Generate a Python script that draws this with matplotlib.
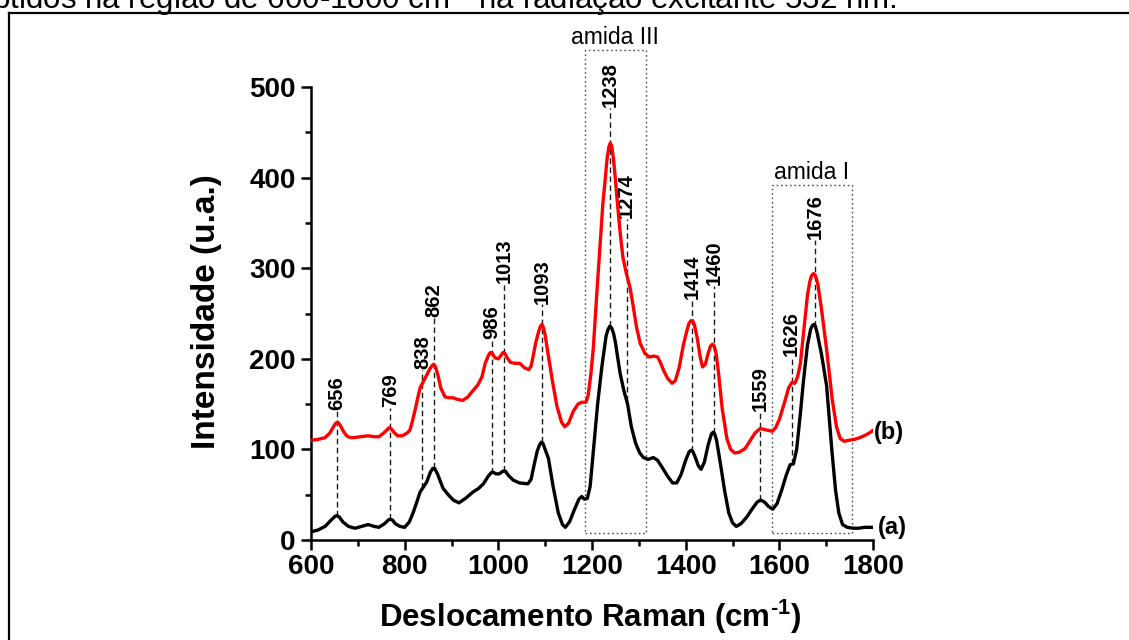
import matplotlib
matplotlib.use("Agg")
import matplotlib.pyplot as plt
from matplotlib.patches import Rectangle
from matplotlib.lines import Line2D
import numpy as np

plt.rcParams['font.family'] = ['Liberation Sans', 'DejaVu Sans']
plt.rcParams['mathtext.fontset'] = 'custom'
plt.rcParams['mathtext.rm'] = 'Liberation Sans:bold'
plt.rcParams['mathtext.bf'] = 'Liberation Sans:bold'

# Spectrum (a)
wn_a = [600, 615, 630, 643, 651, 656, 661, 668, 680, 694, 708, 722, 735, 745, 757, 765,
        769, 774, 780, 790, 800, 810, 818, 826, 833, 847, 855, 860, 864, 870, 882, 893,
        904, 916, 930, 946, 958, 968, 978, 984, 988, 995, 1002, 1010, 1015, 1022, 1032,
        1045, 1063, 1070, 1076, 1083, 1088, 1092, 1095, 1100, 1107, 1117, 1128, 1137,
        1143, 1152, 1162, 1172, 1178, 1184, 1190, 1196, 1203, 1212, 1221, 1230, 1234,
        1238, 1242, 1246, 1250, 1260, 1268, 1276, 1284, 1293, 1302, 1310, 1320, 1331,
        1340, 1350, 1362, 1372, 1381, 1390, 1400, 1407, 1411, 1415, 1420, 1427, 1433,
        1440, 1448, 1455, 1459, 1462, 1466, 1474, 1483, 1492, 1500, 1508, 1518, 1530,
        1543, 1553, 1560, 1568, 1577, 1586, 1595, 1605, 1615, 1623, 1630, 1637, 1645,
        1651, 1660, 1667, 1671, 1674, 1677, 1681, 1690, 1701, 1712, 1720, 1727, 1735,
        1745, 1758, 1770, 1782, 1795, 1800]
int_a = [9, 11, 15, 22, 26, 27, 25, 20, 15, 13, 15, 17, 15, 14, 18, 22,
         23, 22, 18, 15, 14, 20, 30, 42, 53, 64, 75, 79, 79, 73, 57, 50,
         44, 41, 46, 53, 57, 62, 70, 74, 75, 73, 73, 76, 76, 71, 66,
         63, 62, 67, 82, 98, 105, 108, 107, 100, 90, 59, 30, 17,
         14, 20, 33, 45, 48, 45, 46, 59, 99, 150, 191, 225, 232,
         236, 234, 228, 218, 184, 165, 150, 125, 107, 96, 91, 89, 91,
         88, 80, 70, 63, 63, 72, 88, 97, 99, 98, 92, 82, 78,
         86, 105, 117, 119, 117, 110, 85, 55, 30, 19, 15, 18, 25,
         35, 42, 44, 42, 37, 34, 40, 55, 72, 83, 84, 100, 140,
         173, 215, 233, 237, 238, 236, 228, 205, 170, 100, 55, 30, 17,
         14, 13, 13, 14, 14, 14]

# Spectrum (b)
wn_b = [600, 615, 630, 640, 648, 653, 657, 662, 668, 676, 684, 692, 705, 722, 735, 745,
        755, 763, 767, 771, 777, 785, 795, 805, 811, 816, 822, 828, 833, 840, 847, 854,
        858, 862, 866, 871, 877, 886, 895, 903, 914, 924, 935, 946, 956, 965, 972, 979,
        983, 987, 993, 1000, 1006, 1010, 1014, 1019, 1026, 1035, 1046, 1056, 1065, 1070,
        1074, 1080, 1086, 1090, 1093, 1096, 1100, 1106, 1115, 1125, 1135, 1142, 1150,
        1160, 1170, 1178, 1187, 1192, 1198, 1203, 1210, 1217, 1223, 1228, 1232, 1236,
        1239, 1242, 1246, 1250, 1253, 1260, 1266, 1273, 1281, 1288, 1295, 1303, 1313,
        1322, 1332, 1340, 1346, 1353, 1362, 1371, 1378, 1386, 1395, 1403, 1407, 1411,
        1415, 1419, 1425, 1431, 1436, 1442, 1448, 1453, 1457, 1461, 1465, 1470, 1478,
        1488, 1496, 1505, 1515, 1527, 1538, 1548, 1559, 1568, 1577, 1585, 1592, 1600,
        1610, 1620, 1627, 1633, 1639, 1645, 1653, 1660, 1665, 1669, 1673, 1677, 1682,
        1690, 1701, 1713, 1722, 1730, 1738, 1748, 1760, 1772, 1785, 1795, 1800]
int_b = [110, 111, 113, 118, 125, 129, 130, 127, 121, 115, 113, 113, 114, 115, 114, 114,
         118, 122, 124, 123, 119, 115, 115, 118, 121, 130, 143, 157, 168, 175, 182, 189,
         192, 194, 191, 182, 168, 158, 157, 157, 155, 154, 158, 165, 171, 180, 195, 204,
         207, 206, 201, 200, 204, 207, 206, 201, 196, 195, 195, 190, 188, 192,
         202, 218, 230, 236, 238, 235, 226, 206, 177, 148, 130, 125, 129,
         142, 150, 152, 152, 160, 185, 213, 270, 324, 370, 397, 420, 434,
         438, 435, 420, 398, 379, 340, 312, 295, 279, 258, 235, 217, 206,
         202, 203, 202, 196, 187, 178, 173, 176, 190, 215, 232, 239, 242,
         242, 237, 222, 202, 191, 194, 206, 214, 216, 214, 206, 185, 145,
         112, 100, 96, 97, 101, 110, 118, 123, 122, 121, 120, 124, 133,
         150, 168, 174, 173, 180, 195, 235, 270, 285, 292, 294, 292, 283,
         255, 210, 155, 125, 112, 109, 110, 111, 113, 116, 119, 121]

# Annotated band positions (cm-1) and the height where each label starts
peaks = [656, 769, 838, 862, 986, 1013, 1093, 1238, 1274, 1414, 1460, 1559, 1626, 1676]
label_base = [143, 146, 188, 245, 221, 283, 260, 477, 354, 265, 280, 141, 202, 331]

# Amide regions: (name, x start, x end, box top)
regions = [("amida III", 1185, 1315, 541), ("amida I", 1584, 1755, 392)]

x_ticks = [600, 800, 1000, 1200, 1400, 1600, 1800]
y_ticks = [0, 100, 200, 300, 400, 500]

W, H = 1129, 640
fig = plt.figure(figsize=(W / 100, H / 100), dpi=100)
fig.patch.set_facecolor('white')

ax = fig.add_axes([311 / W, 1 - 540 / H, (873 - 311) / W, (540 - 87) / H])
ax.set_xlim(600, 1800)
ax.set_ylim(0, 500)

# guide lines from spectrum (a) up to each label
for p, top in zip(peaks, label_base):
    bottom = float(np.interp(p, wn_a, int_a))
    ax.plot([p, p], [bottom, top], color='#1a1a1a', lw=1.0,
            linestyle=(0, (4, 2.5)), zorder=1, clip_on=False)
    ax.text(p, top + 1, str(p), rotation=90, ha='center', va='bottom',
            fontsize=14.5, fontweight='bold', clip_on=False)

# amide boxes
for name, x0, x1, top in regions:
    rect = Rectangle((x0, 8), x1 - x0, top - 8, fill=False, edgecolor='#4d4d4d',
                     lw=1.0, linestyle=(0, (1.2, 2)), clip_on=False, zorder=1)
    ax.add_patch(rect)
    ax.text((x0 + x1) / 2 - 1, top + 6, name, ha='center', va='baseline',
            fontsize=16.5, clip_on=False)

ax.plot(wn_a, int_a, color='black', lw=2.4, zorder=3, solid_joinstyle='round')
ax.plot(wn_b, int_b, color='#ff0000', lw=2.4, zorder=3, solid_joinstyle='round')

ax.text(1811, int_a[-1], '(a)', ha='left', va='center', fontsize=17,
        fontweight='bold', clip_on=False)
ax.text(1801, int_b[-1] - 2, '(b)', ha='left', va='center', fontsize=17,
        fontweight='bold', clip_on=False)

for s in ('top', 'right'):
    ax.spines[s].set_visible(False)
for s in ('left', 'bottom'):
    ax.spines[s].set_linewidth(1.8)

ax.set_xticks(x_ticks)
ax.set_yticks(y_ticks)
ax.set_xticks(np.arange(700, 1800, 200), minor=True)
ax.set_yticks(np.arange(50, 500, 100), minor=True)
ax.tick_params(which='major', direction='out', length=7, width=1.8,
               labelsize=20, pad=3)
ax.tick_params(which='minor', direction='out', length=4, width=1.8)
ax.tick_params(axis='y', pad=4)
for lab in ax.get_xticklabels() + ax.get_yticklabels():
    lab.set_fontweight('bold')

fig.text(590 / W, 13 / H, r'Deslocamento Raman (cm$^{\text{-1}}$)', ha='center',
         va='baseline', fontsize=22.5, fontweight='bold')
fig.text(207 / W, 1 - 312 / H, 'Intensidade (u.a.)', rotation=90, ha='center',
         va='center', fontsize=24, fontweight='bold')

# caption line running above the framed figure
fig.text(-25 / W, 1 - 9 / H,
         'obtidos na região de 600-1800 cm' + r'$^{\text{-1}}$'
         + ' na radiação excitante 532 nm.',
         ha='left', va='baseline', fontsize=22.5)

# frame around the figure
fig.add_artist(Line2D([9 / W, 9 / W], [0, 1 - 12.5 / H], transform=fig.transFigure,
                      color='black', lw=1.6))
fig.add_artist(Line2D([9 / W, 1], [1 - 12.5 / H, 1 - 12.5 / H],
                      transform=fig.transFigure, color='black', lw=1.6))

fig.savefig('out.png', dpi=100)
